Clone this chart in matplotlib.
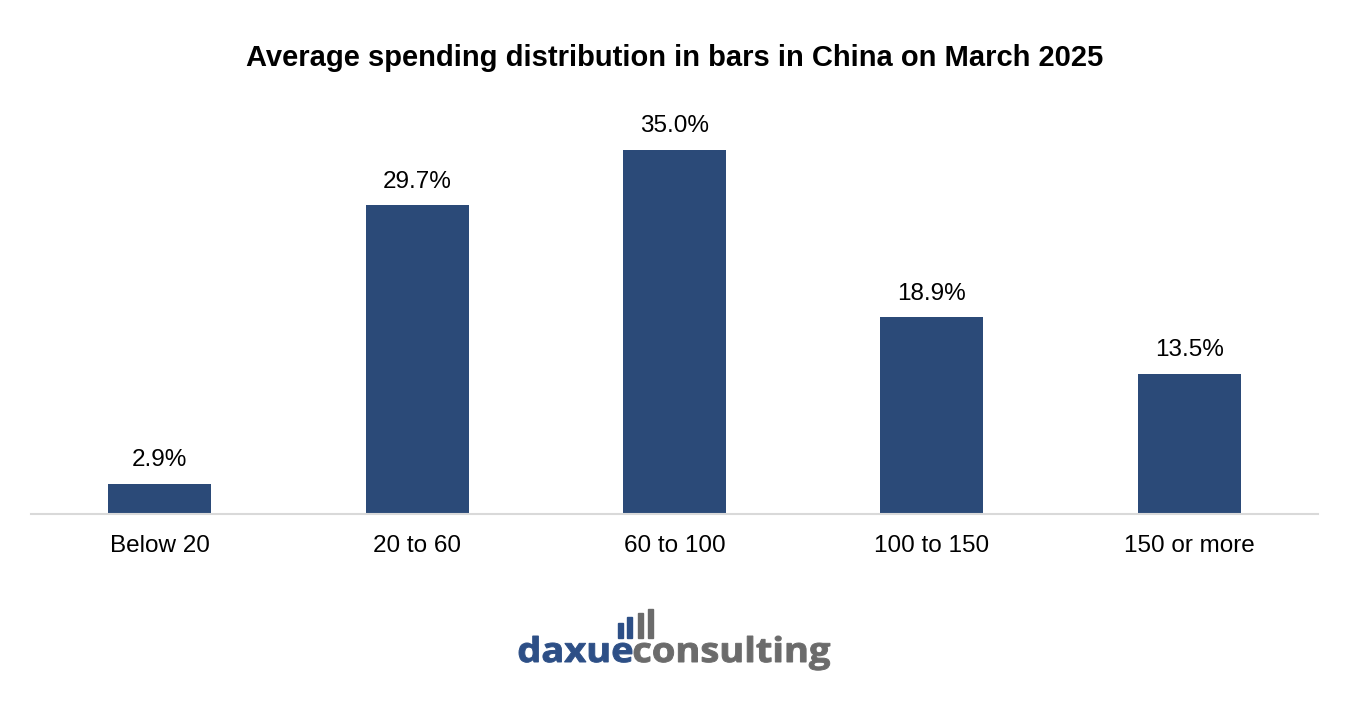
import matplotlib.pyplot as plt
from matplotlib.patches import Rectangle, PathPatch
from matplotlib.textpath import TextPath
from matplotlib.font_manager import FontProperties
from matplotlib.transforms import Affine2D, IdentityTransform

categories = ['Below 20', '20 to 60', '60 to 100', '100 to 150', '150 or more']
shares = [2.9, 29.7, 35.0, 18.9, 13.5]

bar_color = '#2b4a78'
blue = '#2d4f86'
gray = '#6b6b6b'

plt.rcParams['font.family'] = ['Liberation Sans', 'DejaVu Sans']

fig = plt.figure(figsize=(13.54, 7.16), dpi=100)
W, H = 1354, 716
ax = fig.add_axes([31 / W, 1 - 514 / H, (1318 - 31) / W, (514 - 98) / H])

x = range(len(categories))
bars = ax.bar(x, shares, width=0.4, color=bar_color)
for b, v in zip(bars, shares):
    ax.annotate(f'{v:.1f}%', (b.get_x() + b.get_width() / 2, v),
                xytext=(0, 9), textcoords='offset points',
                ha='center', va='bottom', fontsize=17.5)

ax.set_xlim(-0.5, len(categories) - 0.5)
ax.set_ylim(0, 40)
ax.set_xticks(list(x))
ax.set_xticklabels(categories, fontsize=17.5)
ax.tick_params(axis='x', length=0, pad=15)
ax.set_yticks([])
for s in ['top', 'left', 'right']:
    ax.spines[s].set_visible(False)
ax.spines['bottom'].set_color('#d9d9d9')
ax.spines['bottom'].set_linewidth(1.5)

fig.text(675 / W, 1 - 58 / H, 'Average spending distribution in bars in China on March 2025',
         ha='center', va='center', fontsize=21, fontweight='bold')


# logo: word shapes stretched to the widths seen in the picture (pixel coords)
def logo_word(word, x0, x1, base, ref_h, color, sy=None):
    fp = FontProperties(family='Open Sans', weight='bold')
    tp = TextPath((0, 0), word, size=1, prop=fp)
    ext = tp.get_extents()
    sx = (x1 - x0) / ext.width
    if sy is None:
        sy = ref_h / ext.y1
    tr = Affine2D().translate(-ext.x0, 0).scale(sx, sy).translate(x0, H - base)
    fig.add_artist(PathPatch(tp, transform=tr + IdentityTransform(),
                             facecolor=color, edgecolor=color, lw=0.7))
    return sy


sy = logo_word('daxue', 519, 632, 662, 26, blue)
logo_word('consulting', 634, 830, 662, 26, gray, sy)
icon = [(618, 623, blue), (627, 617, blue), (638, 613, gray), (648, 609, gray)]
for xl, top, c in icon:
    fig.patches.append(Rectangle((xl / W, 1 - 638 / H), 5 / W, (638 - top) / H,
                                 transform=fig.transFigure, color=c))

fig.savefig('out.png', dpi=100, facecolor='white')
